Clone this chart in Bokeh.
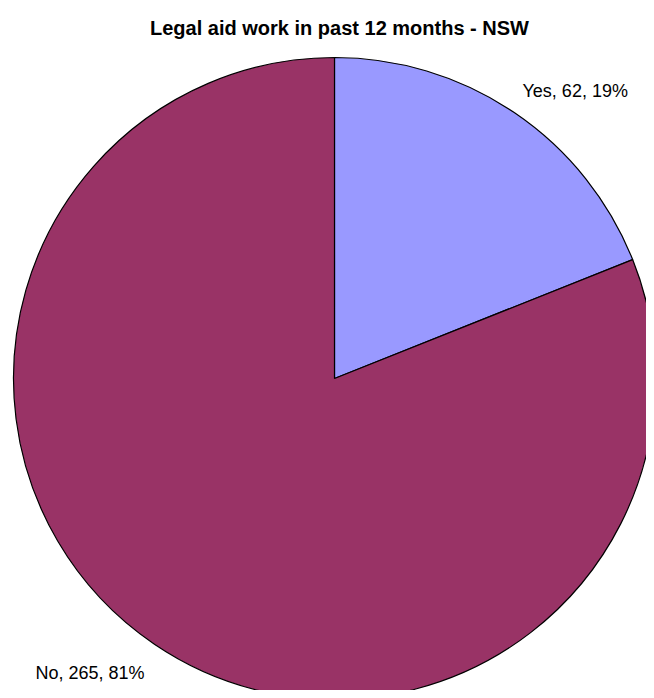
import math
from bokeh.plotting import figure
from bokeh.models import Range1d, ColumnDataSource
from bokeh.core.properties import value
from bokeh.embed import file_html
from bokeh.resources import INLINE

title_text = "Legal aid work in past 12 months - NSW"
categories = ["Yes", "No"]
counts = [62, 265]
colors = ["#9999FF", "#993366"]

W, H = 646, 690
p = figure(width=W, height=H, output_backend="svg", toolbar_location=None,
           x_range=Range1d(0, W), y_range=Range1d(0, H),
           min_border=0, outline_line_color=None)
p.axis.visible = False
p.grid.visible = False
p.background_fill_color = "white"
p.border_fill_color = "white"

def sy(y):  # picture y -> data y
    return H - y

cx, cy, r = 334, sy(378), 321
total = sum(counts)
starts, ends, pcts = [], [], []
cum = 0.0
for c in counts:
    a0 = math.pi / 2 - 2 * math.pi * cum / total
    cum += c
    a1 = math.pi / 2 - 2 * math.pi * cum / total
    starts.append(a1)
    ends.append(a0)
    pcts.append(round(100 * c / total))

src = ColumnDataSource(dict(start=starts, end=ends, color=colors))
p.wedge(x=cx, y=cy, radius=r, start_angle="start", end_angle="end",
        fill_color="color", line_color="black", line_width=1.2, source=src)

labels = [f"{cat}, {v}, {pc}%" for cat, v, pc in zip(categories, counts, pcts)]
label_pos = [(522, sy(90)), (35, sy(672))]
p.text(x=[q[0] for q in label_pos], y=[q[1] for q in label_pos], text=labels,
       text_font=value("Liberation Sans"), text_font_size="18px",
       text_align="left", text_baseline="middle", text_color="black")

p.text(x=[339], y=[sy(27)], text=[title_text], text_font=value("Liberation Sans"),
       text_font_size="20px", text_font_style="bold", text_align="center",
       text_baseline="middle", text_color="black")

open("out.html", "w").write(file_html(p, INLINE))
